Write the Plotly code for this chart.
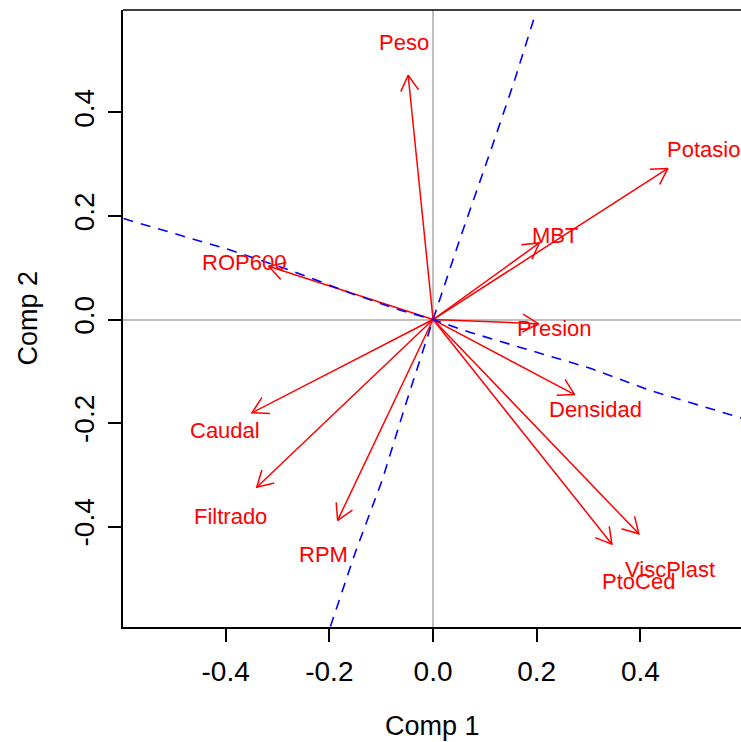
import math
import plotly.graph_objects as go

# PCA loadings on the first two components
variables = ["Peso", "Potasio", "MBT", "ROP600", "Presion", "Densidad",
             "ViscPlast", "PtoCed", "Caudal", "Filtrado", "RPM"]
comp1 = [-0.048, 0.453, 0.205, -0.317, 0.203, 0.273,
         0.397, 0.345, -0.349, -0.340, -0.184]
comp2 = [0.472, 0.292, 0.148, 0.103, -0.008, -0.145,
         -0.414, -0.434, -0.180, -0.324, -0.388]

# Two dashed reference directions through the origin
dir1_x = [-0.597, -0.506, -0.390, -0.275, -0.159, -0.063, 0.0,
          0.072, 0.187, 0.303, 0.419, 0.600]
dir1_y = [0.195, 0.168, 0.134, 0.095, 0.051, 0.018, 0.0,
          -0.025, -0.060, -0.094, -0.137, -0.192]
dir2_x = [-0.198, -0.150, -0.098, -0.050, 0.0, 0.055, 0.111, 0.155, 0.197]
dir2_y = [-0.593, -0.450, -0.310, -0.155, 0.0, 0.165, 0.326, 0.455, 0.589]

tick_vals = [-0.4, -0.2, 0.0, 0.2, 0.4]
tick_text = ["-0.4", "-0.2", "0.0", "0.2", "0.4"]

X_RANGE = [-0.598, 0.594]
Y_RANGE = [-0.594, 0.598]
W, H = 741, 742
M_L, M_R, M_T, M_B = 123, 0, 10, 115
LABEL_SCALE = 1.15

RED = "#ff0000"
BLUE = "#0000ff"
FONT = "Liberation Sans, Arial, Helvetica, sans-serif"

# pixels per data unit, used to give arrowheads a fixed on-screen size
sx = (W - M_L - M_R) / (X_RANGE[1] - X_RANGE[0])
sy = (H - M_T - M_B) / (Y_RANGE[1] - Y_RANGE[0])
head_len = 18.0
head_ang = math.radians(30)

ax, ay = [], []
for x, y in zip(comp1, comp2):
    # shaft
    ax += [0.0, x, None]
    ay += [0.0, y, None]
    # open V head, computed in screen space
    ang = math.atan2(y * sy, x * sx)
    pts = []
    for s in (1, -1):
        a = ang + math.pi + s * head_ang
        pts.append((x + head_len * math.cos(a) / sx,
                    y + head_len * math.sin(a) / sy))
    ax += [pts[0][0], x, pts[1][0], None]
    ay += [pts[0][1], y, pts[1][1], None]

fig = go.Figure()
fig.add_trace(go.Scatter(x=ax, y=ay, mode="lines",
                         line=dict(color=RED, width=1.5),
                         hoverinfo="skip", showlegend=False))
for dx, dy in ((dir1_x, dir1_y), (dir2_x, dir2_y)):
    fig.add_trace(go.Scatter(x=dx, y=dy, mode="lines",
                             line=dict(color=BLUE, width=1.6, dash="10px,8px"),
                             hoverinfo="skip", showlegend=False))

for name, x, y in zip(variables, comp1, comp2):
    fig.add_annotation(x=x * LABEL_SCALE, y=y * LABEL_SCALE, text=name,
                       showarrow=False, xanchor="center", yanchor="middle",
                       yshift=-4, font=dict(family=FONT, size=22, color=RED))

axis_common = dict(
    showgrid=False, zeroline=True, zerolinecolor="#c0c0c0", zerolinewidth=1.5,
    showline=True, linecolor="black", linewidth=1.5,
    ticks="outside", ticklen=13, tickwidth=1.5, tickcolor="black",
    tickvals=tick_vals, ticktext=tick_text,
    tickfont=dict(family=FONT, size=28, color="black"),
)
fig.update_xaxes(range=X_RANGE, ticklabelstandoff=6, **axis_common)
fig.update_yaxes(range=Y_RANGE, tickangle=-90, ticklabelstandoff=3, **axis_common)

# top edge of the plot box
fig.add_shape(type="line", xref="paper", yref="paper", x0=0, x1=1, y0=1, y1=1,
              line=dict(color="black", width=1.5))

fig.add_annotation(text="Comp 1", xref="paper", yref="paper", x=0.5, y=0,
                   yshift=-99, showarrow=False, xanchor="center", yanchor="middle",
                   font=dict(family=FONT, size=27, color="black"))
fig.add_annotation(text="Comp 2", xref="paper", yref="paper", x=0, y=0.5,
                   xshift=-96, showarrow=False, textangle=-90,
                   xanchor="center", yanchor="middle",
                   font=dict(family=FONT, size=27, color="black"))

fig.update_layout(width=W, height=H, margin=dict(l=M_L, r=M_R, t=M_T, b=M_B),
                  plot_bgcolor="white", paper_bgcolor="white")

fig.write_html("out.html")
